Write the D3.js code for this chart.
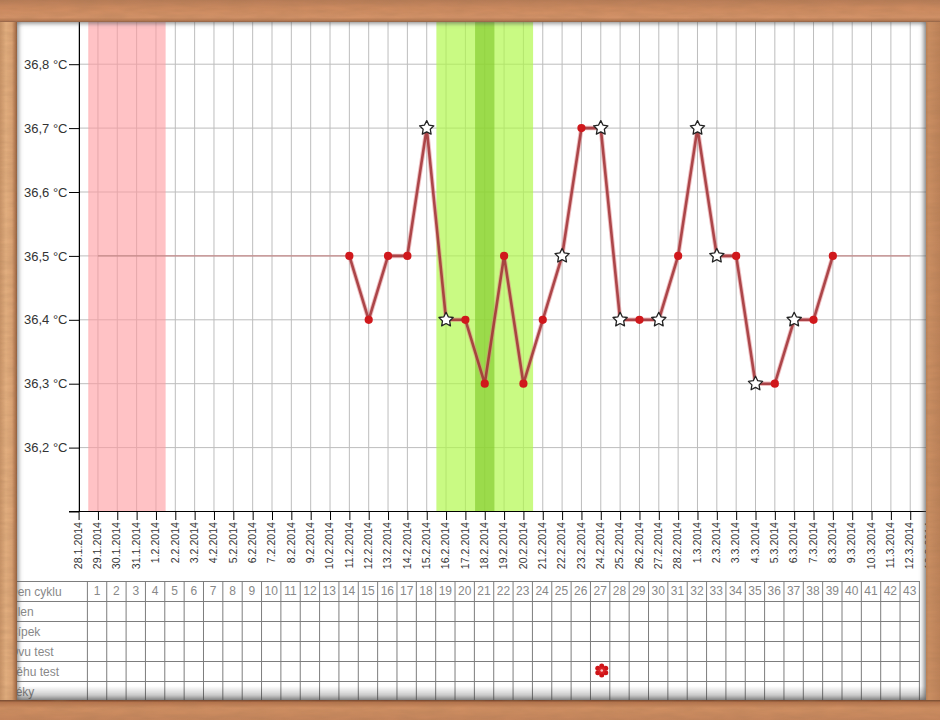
<!DOCTYPE html>
<html>
<head>
<meta charset="utf-8">
<script src="https://cdn.jsdelivr.net/npm/d3@7"></script>
<style>
  html, body { margin: 0; padding: 0; background: #fff; overflow: hidden; }
  svg { display: block; font-family: "Liberation Sans", Arial, sans-serif; }
  .domain { stroke: #000; }
</style>
</head>
<body>
<svg id="chart" width="940" height="720"></svg>
<script>
const dateLabels = [
  '28.1.2014', '29.1.2014', '30.1.2014', '31.1.2014', '1.2.2014', '2.2.2014', '3.2.2014', '4.2.2014',
  '5.2.2014', '6.2.2014', '7.2.2014', '8.2.2014', '9.2.2014', '10.2.2014', '11.2.2014', '12.2.2014',
  '13.2.2014', '14.2.2014', '15.2.2014', '16.2.2014', '17.2.2014', '18.2.2014', '19.2.2014', '20.2.2014',
  '21.2.2014', '22.2.2014', '23.2.2014', '24.2.2014', '25.2.2014', '26.2.2014', '27.2.2014', '28.2.2014',
  '1.3.2014', '2.3.2014', '3.3.2014', '4.3.2014', '5.3.2014', '6.3.2014', '7.3.2014', '8.3.2014',
  '9.3.2014', '10.3.2014', '11.3.2014', '12.3.2014', '13.3.2014'
];

// one entry per cycle day, 1 = 29.1.2014
const cycleDays = d3.range(1, 44);
const temps = [
  36.5, 36.5, 36.5, 36.5, 36.5, 36.5, 36.5, 36.5, 36.5, 36.5, 36.5, 36.5, 36.5,
  36.5, 36.4, 36.5, 36.5, 36.7, 36.4, 36.4, 36.3, 36.5, 36.3, 36.4, 36.5, 36.7, 36.7,
  36.4, 36.4, 36.4, 36.5, 36.7, 36.5, 36.5, 36.3, 36.3, 36.4, 36.4, 36.5,
  36.5, 36.5, 36.5, 36.5
];
const starDays = [18, 19, 25, 27, 28, 30, 32, 33, 35, 37];
const firstMeasured = 14;
const lastMeasured = 39;

const tempTicks = [36.2, 36.3, 36.4, 36.5, 36.6, 36.7, 36.8];
const rowLabels = ['Den cyklu', 'Hlen', 'Čípek', 'Ovu test', 'Těhu test', 'Léky'];
const pregnancyDays = [27];

const periodDays = [1, 4];
const fertileDays = [19, 23];
const ovulationDay = 21;

const svg = d3.select('#chart');
const defs = svg.append('defs');

const x = d3.scalePoint().domain(dateLabels).range([78.6, 78.6 + 44 * 19.34]);
const dayX = (day) => x(dateLabels[day]);
const y = d3.scaleLinear().domain([36.1, 36.9]).range([511.5, 0.3]);

const col = d3.scaleBand().domain(cycleDays).range([87.4, 919.4]);
const row = d3.scaleBand().domain(rowLabels).range([581.5, 701.5]);

// grid
const plot = svg.append('g');

plot.selectAll('.v-grid').data(dateLabels).join('line')
  .attr('class', 'v-grid')
  .attr('x1', (d) => x(d)).attr('x2', (d) => x(d))
  .attr('y1', 0).attr('y2', 511)
  .attr('stroke', '#bdbdbd');

plot.selectAll('.h-grid').data(tempTicks).join('line')
  .attr('class', 'h-grid')
  .attr('x1', 79).attr('x2', 930)
  .attr('y1', (d) => y(d)).attr('y2', (d) => y(d))
  .attr('stroke', '#bdbdbd');

// cycle phases
const band = (from, to, fill, opacity) => {
  plot.append('rect')
    .attr('x', dayX(from) - 9.67)
    .attr('y', 0)
    .attr('width', dayX(to) - dayX(from) + 19.34)
    .attr('height', 511)
    .attr('fill', fill)
    .attr('fill-opacity', opacity);
};
band(periodDays[0], periodDays[1], '#ff9a9e', 0.6);
band(fertileDays[0], fertileDays[1], '#b0f848', 0.68);
band(ovulationDay, ovulationDay, '#80c828', 0.62);

// axes
const yAxis = d3.axisLeft(y)
  .tickValues([36.1, ...tempTicks])
  .tickSize(10)
  .tickSizeOuter(0)
  .tickFormat((d) => (d === 36.1 ? '' : d3.format('.1f')(d).replace('.', ',') + ' °C'));

const yg = svg.append('g').attr('transform', 'translate(79,0)').call(yAxis);
yg.selectAll('text').attr('font-size', 13).attr('font-family', 'inherit').attr('fill', '#333').attr('x', -11.5);
yg.selectAll('.tick line').attr('stroke', '#000');

const xAxis = d3.axisBottom(x).tickSize(9).tickSizeOuter(0);
const xg = svg.append('g').attr('transform', 'translate(0,511)').call(xAxis);
xg.select('.domain').remove();
xg.selectAll('.tick line').attr('stroke', '#000');
xg.selectAll('text')
  .attr('font-size', 10.6)
  .attr('font-family', 'inherit')
  .attr('fill', '#333')
  .attr('text-anchor', 'end')
  .attr('transform', 'rotate(-90)')
  .attr('x', -11)
  .attr('y', -1)
  .attr('dy', '.35em');

svg.append('line')
  .attr('x1', 69).attr('x2', 930)
  .attr('y1', 511.5).attr('y2', 511.5)
  .attr('stroke', '#000');

// temperature curve
const line = d3.line()
  .x((d) => dayX(d))
  .y((d) => y(temps[d - 1]));

const lineBefore = cycleDays.filter((d) => d <= firstMeasured);
const lineMeasured = cycleDays.filter((d) => d >= firstMeasured && d <= lastMeasured);
const lineAfter = cycleDays.filter((d) => d >= lastMeasured);

[lineBefore, lineAfter].forEach((days) => {
  svg.append('path')
    .attr('d', line(days))
    .attr('fill', 'none')
    .attr('stroke', '#c58a8a')
    .attr('stroke-width', 1.2);
});

svg.append('path')
  .attr('d', line(lineMeasured))
  .attr('fill', 'none')
  .attr('stroke', '#e07f86')
  .attr('stroke-opacity', 0.5)
  .attr('stroke-width', 4.5)
  .attr('stroke-linejoin', 'round');

svg.append('path')
  .attr('d', line(lineMeasured))
  .attr('fill', 'none')
  .attr('stroke', '#a03034')
  .attr('stroke-opacity', 0.85)
  .attr('stroke-width', 2.6)
  .attr('stroke-linejoin', 'round');

const dotDays = lineMeasured.filter((d) => !starDays.includes(d));

svg.selectAll('.dot').data(dotDays).join('circle')
  .attr('class', 'dot')
  .attr('cx', (d) => dayX(d))
  .attr('cy', (d) => y(temps[d - 1]))
  .attr('r', 4.1)
  .attr('fill', '#d0181c');

// fatter than d3.symbolStar, the original marker is a stubby star
const stubbyStar = {
  draw(context, size) {
    const r = Math.sqrt(size);
    for (let i = 0; i < 10; i++) {
      const a = i * Math.PI / 5;
      const rr = i % 2 ? r * 0.5 : r;
      const px = rr * Math.sin(a);
      const py = -rr * Math.cos(a);
      if (i === 0) context.moveTo(px, py);
      else context.lineTo(px, py);
    }
    context.closePath();
  }
};
const star = d3.symbol(stubbyStar).size(56);

svg.selectAll('.star').data(starDays).join('path')
  .attr('class', 'star')
  .attr('d', star)
  .attr('transform', (d) => `translate(${dayX(d)},${y(temps[d - 1])})`)
  .attr('fill', '#fff')
  .attr('stroke', '#222')
  .attr('stroke-width', 1.3)
  .attr('stroke-linejoin', 'round');

// table under the chart
const table = svg.append('g');
const colEdges = [...cycleDays.map((d) => col(d)), 919.4];

table.selectAll('.row-line').data([...rowLabels.map((d) => row(d)), 701.5]).join('line')
  .attr('class', 'row-line')
  .attr('x1', 0).attr('x2', 919.9)
  .attr('y1', (d) => d).attr('y2', (d) => d)
  .attr('stroke', '#7d7d7d');

table.selectAll('.col-line').data(colEdges).join('line')
  .attr('class', 'col-line')
  .attr('x1', (d) => d).attr('x2', (d) => d)
  .attr('y1', 581).attr('y2', 701)
  .attr('stroke', '#7d7d7d');

table.selectAll('.row-label').data(rowLabels).join('text')
  .attr('class', 'row-label')
  .attr('x', 9)
  .attr('y', (d) => row(d) + row.bandwidth() / 2)
  .attr('dy', '.35em')
  .attr('font-size', 12)
  .attr('fill', '#888')
  .text((d) => d);

table.selectAll('.day-label').data(cycleDays).join('text')
  .attr('class', 'day-label')
  .attr('x', (d) => col(d) + col.bandwidth() / 2)
  .attr('y', row('Den cyklu') + row.bandwidth() / 2 - 0.5)
  .attr('dy', '.35em')
  .attr('text-anchor', 'middle')
  .attr('font-size', 12)
  .attr('fill', '#888')
  .text((d) => d);

// pregnancy test flower
const flower = table.selectAll('.flower').data(pregnancyDays).join('g')
  .attr('class', 'flower')
  .attr('transform', (d) => `translate(${col(d) + col.bandwidth() / 2 + 1.6},${row('Těhu test') + row.bandwidth() / 2 - 1})`);

flower.selectAll('circle').data(d3.range(6)).join('circle')
  .attr('cx', (d) => 4.6 * Math.sin(d * Math.PI / 3))
  .attr('cy', (d) => -4.6 * Math.cos(d * Math.PI / 3))
  .attr('r', 2.5)
  .attr('fill', '#cf1418');
flower.append('circle').attr('r', 3.2).attr('fill', '#dc2226');
flower.append('circle').attr('r', 1.3).attr('fill', '#f8c4c4');

// wooden frame
const grad = (id, stops, horizontal) => {
  const g = defs.append('linearGradient').attr('id', id)
    .attr('x1', 0).attr('y1', 0)
    .attr('x2', horizontal ? 1 : 0).attr('y2', horizontal ? 0 : 1);
  stops.forEach((s) => g.append('stop').attr('offset', s[0]).attr('stop-color', s[1]));
};
grad('wood-top', [[0, '#b67c58'], [0.35, '#cc8a60'], [0.8, '#d29268'], [0.93, '#b57a54'], [1, '#8f6148']]);
grad('wood-left', [[0, '#c99468'], [0.35, '#e3af80'], [0.7, '#d9a274'], [0.93, '#a86f4a'], [1, '#8b5a3c']], true);
grad('wood-right', [[0, '#b98158'], [0.2, '#cb8f63'], [1, '#bd8259']], true);
grad('wood-bottom', [[0, '#6f412b'], [0.12, '#b4744e'], [0.4, '#cf8f63'], [1, '#c4855c']]);

const blur = defs.append('filter').attr('id', 'soft')
  .attr('x', '-5%').attr('y', '-5%').attr('width', '110%').attr('height', '110%');
blur.append('feGaussianBlur').attr('stdDeviation', 2.8);

const grain = defs.append('filter').attr('id', 'grain')
  .attr('x', 0).attr('y', 0).attr('width', '100%').attr('height', '100%');
grain.append('feTurbulence')
  .attr('type', 'fractalNoise').attr('baseFrequency', '0.04 0.2')
  .attr('numOctaves', 3).attr('seed', 4).attr('result', 'n');
grain.append('feColorMatrix').attr('in', 'n').attr('type', 'matrix')
  .attr('values', '0 0 0 0 0.35  0 0 0 0 0.18  0 0 0 0 0.08  0.4 0 0 0 -0.1').attr('result', 'c');
grain.append('feComposite').attr('in', 'c').attr('in2', 'SourceAlpha').attr('operator', 'in').attr('result', 't');
const merge = grain.append('feMerge');
merge.append('feMergeNode').attr('in', 'SourceGraphic');
merge.append('feMergeNode').attr('in', 't');

const frame = svg.append('g');

grad('bottom-shade', [[0, '#000'], [1, '#000']]);
defs.select('#bottom-shade').selectAll('stop')
  .attr('stop-opacity', (d, i) => (i ? 0.32 : 0));
frame.append('rect')
  .attr('x', 17).attr('y', 686).attr('width', 910).attr('height', 15)
  .attr('fill', 'url(#bottom-shade)');

frame.append('path')
  .attr('d', 'M0,0H940V720H0ZM18,23V699H924V23Z')
  .attr('fill-rule', 'evenodd')
  .attr('fill', '#555')
  .attr('fill-opacity', 0.8)
  .attr('filter', 'url(#soft)');

frame.append('rect').attr('x', 0).attr('y', 0).attr('width', 17).attr('height', 720).attr('fill', 'url(#wood-left)').attr('filter', 'url(#grain)');
frame.append('rect').attr('x', 926).attr('y', 0).attr('width', 14).attr('height', 720).attr('fill', 'url(#wood-right)').attr('filter', 'url(#grain)');
frame.append('rect').attr('x', 0).attr('y', 0).attr('width', 940).attr('height', 22).attr('fill', 'url(#wood-top)').attr('filter', 'url(#grain)');
frame.append('rect').attr('x', 0).attr('y', 700).attr('width', 940).attr('height', 20).attr('fill', 'url(#wood-bottom)').attr('filter', 'url(#grain)');
</script>
</body>
</html>
